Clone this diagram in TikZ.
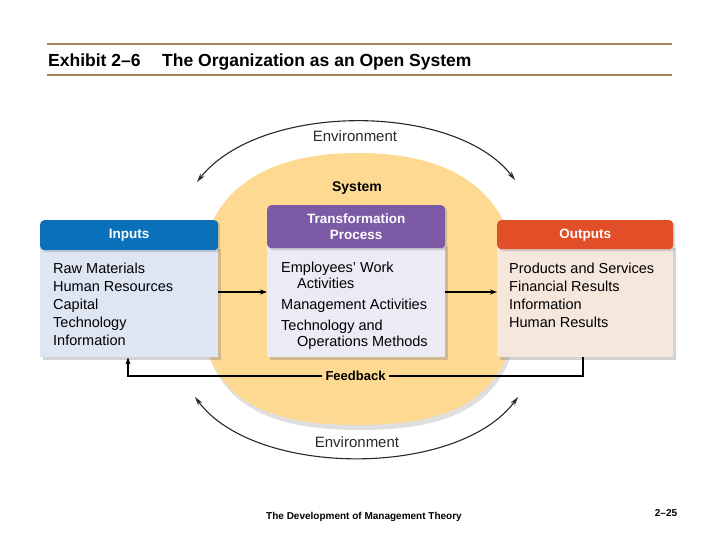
\documentclass[tikz,border=0pt]{standalone}
\usepackage{fontspec}
\setmainfont{Liberation Sans}
\usetikzlibrary{arrows.meta,positioning,shadows}
\definecolor{sysorange}{RGB}{253,217,145}
\definecolor{rulebrown}{RGB}{172,132,94}
\definecolor{inhead}{RGB}{10,112,186}
\definecolor{inbody}{RGB}{223,230,243}
\definecolor{trhead}{RGB}{124,90,166}
\definecolor{trbody}{RGB}{236,234,244}
\definecolor{outhead}{RGB}{225,78,40}
\definecolor{outbody}{RGB}{246,231,220}
\definecolor{envgray}{RGB}{40,40,40}

\begin{document}
\begin{tikzpicture}[x=1pt, y=1pt,
  hd/.style={rounded corners=4pt, inner sep=0pt, text=white, align=center, font=\fontsize{13.5}{16}\selectfont\bfseries, drop shadow={shadow xshift=2pt, shadow yshift=-2pt, opacity=.3}},
  bd/.style={inner sep=0pt, drop shadow={shadow xshift=2.5pt, shadow yshift=-3pt, opacity=.35}},
  items/.style={inner sep=0pt, align=left, font=\fontsize{14.5}{18.2}\selectfont},
  arr/.style={-{Stealth[length=7pt,width=5pt]}, line width=1.6pt},
  envarr/.style={{Stealth[length=9pt,width=5pt]}-{Stealth[length=9pt,width=5pt]}, line width=1.1pt, envgray},
  envtext/.style={font=\fontsize{15}{18}\selectfont, text=envgray},
]
\useasboundingbox (0,0) rectangle (720,540);

\draw[rulebrown, line width=1.8pt] (47,496) -- (672,496);
\draw[rulebrown, line width=1.8pt] (47,465) -- (672,465);
\node[font=\fontsize{17.5}{20}\selectfont\bfseries, anchor=base west, inner sep=0pt] (exhibit) at (48,473) {Exhibit 2–6};
\node[font=\fontsize{17.5}{20}\selectfont\bfseries, anchor=base west, inner sep=0pt] (title) at (162,473) {The Organization as an Open System};

\fill[sysorange, drop shadow={shadow xshift=2pt, shadow yshift=-5pt, opacity=.25}]
  (358,387) .. controls (238,387) and (198,326) .. (198,251)
  .. controls (198,150) and (250,115) .. (358,115)
  .. controls (466,115) and (518,150) .. (518,251)
  .. controls (518,326) and (478,387) .. (358,387) -- cycle;
\node[font=\fontsize{14}{16}\selectfont\bfseries] (syslabel) at (357,352) {System};

\node[bd, fill=inbody, minimum width=178pt, minimum height=111pt, anchor=north west] (inbd) at (40,294) {};
\node[hd, fill=inhead, minimum width=178pt, minimum height=30pt, anchor=north west] (inhd) at (40,320) {Inputs};
\node[items, below right=12pt and 13pt of inhd.south west] (inlist) {Raw Materials\\Human Resources\\Capital\\Technology\\Information};

\node[bd, fill=trbody, minimum width=178pt, minimum height=113pt, anchor=north west] (trbd) at (267,296) {};
\node[hd, fill=trhead, minimum width=178pt, minimum height=43pt, anchor=north west] (trhd) at (267,335) {Transformation\\Process};
\node[items, font=\fontsize{14.5}{16}\selectfont, below right=13pt and 14pt of trhd.south west] (trlist) {Employees’ Work\\\hspace*{16pt}Activities\\[5pt]Management Activities\\[5pt]Technology and\\\hspace*{16pt}Operations Methods};

\node[bd, fill=outbody, minimum width=176pt, minimum height=112pt, anchor=north west] (outbd) at (497,295) {};
\node[hd, fill=outhead, minimum width=176pt, minimum height=29pt, anchor=north west] (outhd) at (497,320) {Outputs};
\node[items, below right=13pt and 12pt of outhd.south west] (outlist) {Products and Services\\Financial Results\\Information\\Human Results};

\coordinate (flow) at (0,248);
\draw[arr] (inbd.east |- flow) -- (trbd.west |- flow);
\draw[arr] (trbd.east |- flow) -- (outbd.west |- flow);

\coordinate (fbR) at (583,164);
\coordinate (fbL) at (128,164);
\draw[arr] (outbd.south -| fbR) -- (fbR) -- node[fill=sysorange, inner sep=4pt, font=\fontsize{13}{15}\selectfont\bfseries] (fblabel) {Feedback} (fbL) -- (inbd.south -| fbL);

\coordinate (envTL) at (197,358);
\coordinate (envTR) at (515,360);
\draw[envarr] (envTL) .. controls (260,438) and (455,438) .. (envTR);
\node[envtext] (envtop) at (355,404) {Environment};
\coordinate (envBL) at (195,143);
\coordinate (envBR) at (518,143);
\draw[envarr] (envBL) .. controls (255,62) and (458,62) .. (envBR);
\node[envtext] (envbot) at (357,98) {Environment};

\node[font=\fontsize{10}{12}\selectfont\bfseries] (footer) at (364,23) {The Development of Management Theory};
\node[font=\fontsize{10}{12}\selectfont\bfseries] (pageno) at (666,27) {2–25};
\end{tikzpicture}
\end{document}
